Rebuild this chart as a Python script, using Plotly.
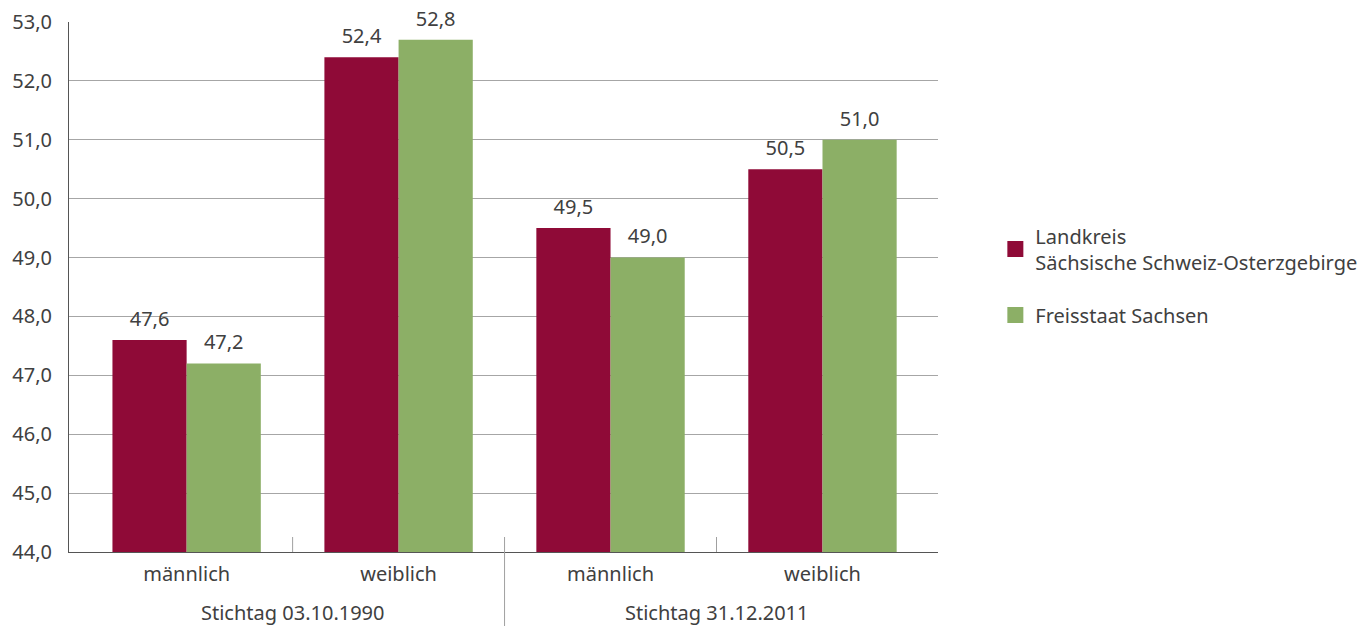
import plotly.graph_objects as go

categories = ["männlich", "weiblich", "männlich", "weiblich"]
groups = ["Stichtag 03.10.1990", "Stichtag 31.12.2011"]
series_names = ["Landkreis<br>Sächsische Schweiz-Osterzgebirge", "Freisstaat Sachsen"]
landkreis = [47.6, 52.4, 49.5, 50.5]
sachsen = [47.2, 52.7, 49.0, 51.0]
landkreis_labels = ["47,6", "52,4", "49,5", "50,5"]
sachsen_labels = ["47,2", "52,8", "49,0", "51,0"]
y_ticks = [44, 45, 46, 47, 48, 49, 50, 51, 52, 53]

RED = "#8F0A37"
GREEN = "#8CAF66"
TXT = "#404040"
FONT = "Noto Sans"
FS = 20

x = list(range(len(categories)))
series = [(landkreis, landkreis_labels, RED, "a"), (sachsen, sachsen_labels, GREEN, "b")]

fig = go.Figure()
for vals, labels, color, grp in series:
    fig.add_trace(go.Bar(
        x=x, y=vals, marker=dict(color=color, line=dict(width=0)),
        offsetgroup=grp, showlegend=False, hoverinfo="skip",
    ))
for vals, labels, color, grp in series:
    fig.add_trace(go.Scatter(
        x=x, y=vals, mode="markers+text", text=labels, textposition="top center",
        marker=dict(size=13, color=color, opacity=0), offsetgroup=grp,
        textfont=dict(family=FONT, size=FS, color=TXT), cliponaxis=False,
        showlegend=False,
    ))
for i, (name, (vals, labels, color, grp)) in enumerate(zip(series_names, series)):
    fig.add_trace(go.Scatter(
        x=[None], y=[None], mode="markers", name=name, legendgroup="g%d" % i,
        offsetgroup=grp,
        marker=dict(symbol="square", size=16, color=color),
    ))

shapes = []
for xv in [0.5, 2.5]:
    shapes.append(dict(type="line", xref="x", yref="paper", x0=xv, x1=xv, y0=0, y1=0.0283,
                       line=dict(color="#a0a0a0", width=1)))
shapes.append(dict(type="line", xref="x", yref="paper", x0=1.5, x1=1.5, y0=0.0283, y1=-0.14,
                   line=dict(color="#a0a0a0", width=1)))

annotations = []
for gx, g in zip([0.5, 2.5], groups):
    annotations.append(dict(x=gx, xref="x", y=-0.115, yref="paper", text=g, showarrow=False,
                            yanchor="middle", font=dict(family=FONT, size=FS, color=TXT)))

fig.update_layout(
    width=1372, height=626,
    margin=dict(l=69, r=434, t=22, b=74, autoexpand=False),
    plot_bgcolor="white", paper_bgcolor="white",
    barmode="group", bargap=0.3, bargroupgap=0,
    scattermode="group", scattergap=0.3,
    separators=",.",
    font=dict(family=FONT, size=FS, color=TXT),
    xaxis=dict(range=[-0.555, 3.545], tickvals=x, ticktext=categories, showgrid=False,
               showline=True, linecolor="#555555", linewidth=1, ticks="", zeroline=False,
               ticklabelstandoff=4, automargin=False,
               tickfont=dict(family=FONT, size=FS, color=TXT)),
    yaxis=dict(range=[44, 53], tickvals=y_ticks, tickformat=".1f", showgrid=True,
               gridcolor="#a6a6a6", gridwidth=1, showline=True, linecolor="#555555", linewidth=1,
               ticks="", zeroline=False, ticklabelstandoff=12, automargin=False,
               tickfont=dict(family=FONT, size=FS, color=TXT)),
    legend=dict(x=1.066, y=0.633, xanchor="left", yanchor="top", font=dict(family=FONT, size=FS, color=TXT),
                tracegroupgap=24, itemclick=False),
    shapes=shapes, annotations=annotations,
)
fig.write_html("out.html")
